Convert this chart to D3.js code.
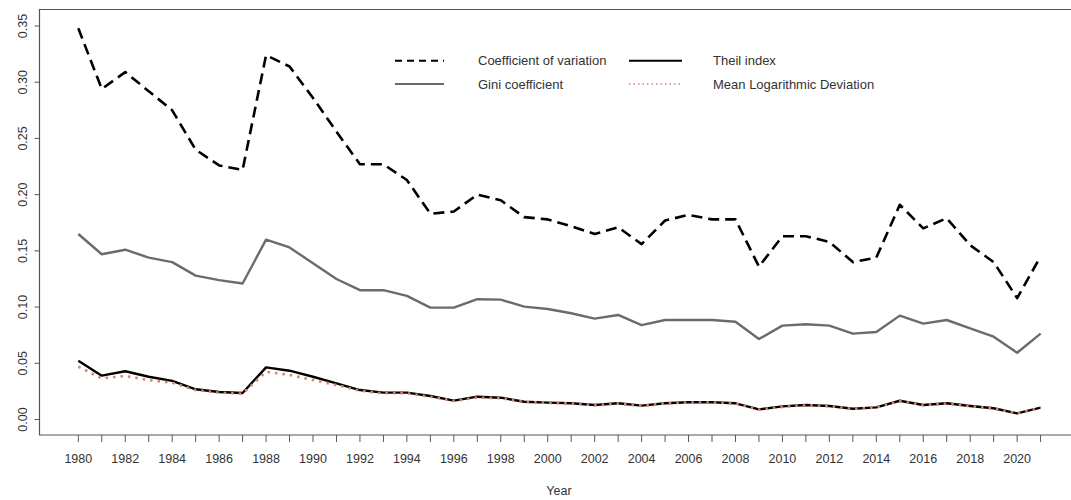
<!DOCTYPE html>
<html>
<head>
<meta charset="utf-8">
<script src="https://cdn.jsdelivr.net/npm/d3@7"></script>
<style>
  html, body { margin: 0; padding: 0; background: #fff; }
  svg { display: block; font-family: "Liberation Sans", Arial, sans-serif; }
</style>
</head>
<body>
<svg id="chart" width="1071" height="500"></svg>
<script>
// Inequality measures by year
const years = d3.range(1980, 2022);

const coefVariation = [0.348, 0.294, 0.309, 0.292, 0.275, 0.240, 0.226, 0.222, 0.324, 0.314,
  0.286, 0.256, 0.227, 0.227, 0.213, 0.183, 0.185, 0.200, 0.195, 0.180,
  0.178, 0.172, 0.165, 0.171, 0.156, 0.177, 0.182, 0.178, 0.178, 0.136,
  0.163, 0.163, 0.158, 0.140, 0.144, 0.191, 0.170, 0.179, 0.155, 0.140,
  0.108, 0.145];

const gini = [0.165, 0.147, 0.151, 0.144, 0.140, 0.128, 0.124, 0.121, 0.160, 0.153,
  0.139, 0.125, 0.115, 0.115, 0.110, 0.0995, 0.0995, 0.107, 0.1066, 0.1004,
  0.0983, 0.0945, 0.0897, 0.093, 0.084, 0.0885, 0.0885, 0.0885, 0.087, 0.0716,
  0.0835, 0.0847, 0.0835, 0.0764, 0.0778, 0.0924, 0.0853, 0.0885, 0.0811, 0.0737,
  0.0594, 0.0764];

const theil = [0.0523, 0.039, 0.0429, 0.038, 0.0343, 0.0269, 0.0245, 0.0236, 0.0464, 0.0434,
  0.038, 0.0322, 0.0262, 0.0239, 0.0239, 0.0209, 0.0168, 0.0203, 0.0194, 0.0158,
  0.015, 0.0144, 0.0129, 0.0144, 0.0123, 0.0144, 0.0153, 0.0153, 0.0144, 0.009,
  0.0117, 0.0129, 0.012, 0.0096, 0.0108, 0.0167, 0.0129, 0.0144, 0.012, 0.01,
  0.0055, 0.0105];

const mld = [0.047, 0.0366, 0.0387, 0.0351, 0.0327, 0.0262, 0.0239, 0.023, 0.0425, 0.0396,
  0.0351, 0.0307, 0.0256, 0.0233, 0.0233, 0.0203, 0.0165, 0.0195, 0.019, 0.0155,
  0.0148, 0.0142, 0.0127, 0.0142, 0.0121, 0.0142, 0.0151, 0.0151, 0.0142, 0.0088,
  0.0112, 0.0127, 0.0118, 0.0094, 0.0106, 0.0164, 0.0127, 0.0142, 0.0118, 0.0098,
  0.0054, 0.0104];

const yTicks = [0, 0.05, 0.10, 0.15, 0.20, 0.25, 0.30, 0.35];
const legendLabels = ["Coefficient of variation", "Gini coefficient", "Theil index", "Mean Logarithmic Deviation"];

const svg = d3.select("#chart");
const box = { left: 39.5, top: 9.5, bottom: 435, right: 1075 };

const x = d3.scaleLinear().domain([1980, 2021]).range([78.3, 1040.6]);
const y = d3.scaleLinear().domain([0, 0.35]).range([419.5, 26]);

const axisColor = "#555";
const textColor = "#333";

// plot frame (top, left, bottom)
svg.append("path")
  .attr("d", `M${box.right},${box.top}H${box.left}V${box.bottom}H${box.right}`)
  .attr("fill", "none").attr("stroke", axisColor).attr("stroke-width", 1.2);

// x axis ticks and labels
const xg = svg.append("g");
xg.selectAll("line").data(years).join("line")
  .attr("x1", d => x(d)).attr("x2", d => x(d))
  .attr("y1", box.bottom).attr("y2", box.bottom + 7)
  .attr("stroke", axisColor).attr("stroke-width", 1);
xg.selectAll("text").data(years.filter(d => d % 2 === 0)).join("text")
  .attr("x", d => x(d)).attr("y", 459)
  .attr("text-anchor", "middle").attr("dominant-baseline", "central")
  .attr("font-size", 12.5).attr("fill", textColor)
  .text(d => d);
svg.append("text")
  .attr("x", 559).attr("y", 491)
  .attr("text-anchor", "middle").attr("dominant-baseline", "central")
  .attr("font-size", 12.5).attr("fill", textColor)
  .text("Year");

// y axis ticks and rotated labels
const yg = svg.append("g");
yg.selectAll("line").data(yTicks).join("line")
  .attr("x1", box.left - 5).attr("x2", box.left)
  .attr("y1", d => y(d)).attr("y2", d => y(d))
  .attr("stroke", axisColor).attr("stroke-width", 1);
yg.selectAll("text").data(yTicks).join("text")
  .attr("transform", d => `translate(23,${y(d)}) rotate(-90)`)
  .attr("text-anchor", "middle").attr("dominant-baseline", "central")
  .attr("font-size", 12.5).attr("fill", textColor)
  .text(d => d3.format(".2f")(d));

// series styles
const series = [
  { name: legendLabels[0], values: coefVariation, color: "#000", width: 2.6, dash: "11,6" },
  { name: legendLabels[1], values: gini, color: "#6b6b6b", width: 2.4, dash: null },
  { name: legendLabels[2], values: theil, color: "#000", width: 2.4, dash: null },
  { name: legendLabels[3], values: mld, color: "#d9806f", width: 2.6, dash: "2.5,5" }
];

const line = d3.line().x((d, i) => x(years[i])).y(d => y(d));

svg.append("g").selectAll("path").data(series).join("path")
  .attr("d", d => line(d.values))
  .attr("fill", "none")
  .attr("stroke", d => d.color)
  .attr("stroke-width", d => d.width)
  .attr("stroke-dasharray", d => d.dash)
  .attr("stroke-linejoin", "round");

// legend, two columns
const legendPos = [
  { sx: 395, ex: 444, tx: 478, ty: 60.7 },
  { sx: 395, ex: 444, tx: 478, ty: 84 },
  { sx: 629, ex: 682, tx: 713, ty: 60.7 },
  { sx: 629, ex: 682, tx: 713, ty: 84 }
];
const lg = svg.append("g");
series.forEach((s, i) => {
  const p = legendPos[i];
  lg.append("line")
    .attr("x1", p.sx).attr("x2", p.ex).attr("y1", p.ty).attr("y2", p.ty)
    .attr("stroke", s.color)
    .attr("stroke-width", i === 3 ? 1.6 : (i === 1 ? 1.8 : 2))
    .attr("stroke-dasharray", i === 0 ? "7,5" : (i === 3 ? "1.5,3" : null));
  lg.append("text")
    .attr("x", p.tx).attr("y", p.ty)
    .attr("dominant-baseline", "central")
    .attr("font-size", 13).attr("fill", textColor)
    .text(s.name);
});
</script>
</body>
</html>
